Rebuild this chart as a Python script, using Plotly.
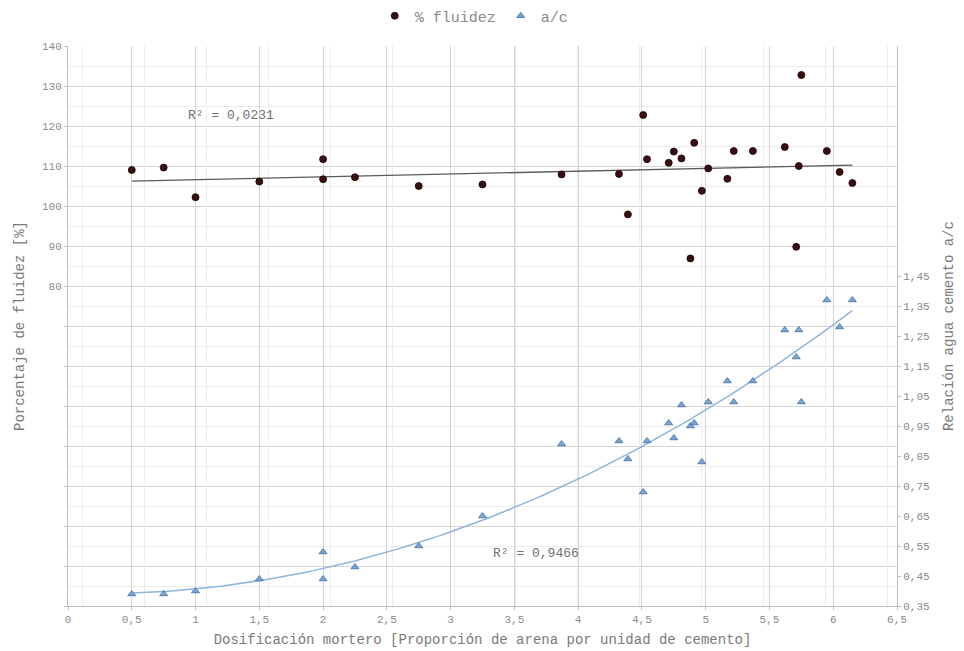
import numpy as np
import plotly.graph_objects as go

# ---------------- data ----------------
dosificacion = [0.5, 0.75, 1.0, 1.5, 2.0, 2.0, 2.25, 2.75, 3.25, 3.87, 4.32, 4.39, 4.51, 4.54,
                4.71, 4.75, 4.81, 4.88, 4.91, 4.97, 5.02, 5.17, 5.22, 5.37, 5.62, 5.71, 5.73,
                5.75, 5.95, 6.05, 6.15]
fluidez = [109.0, 109.6, 102.2, 106.1, 111.7, 106.7, 107.2, 105.0, 105.4, 107.9, 108.0, 97.9,
           122.75, 111.7, 110.8, 113.6, 111.9, 86.9, 115.8, 103.8, 109.4, 106.8, 113.75, 113.75,
           114.75, 89.8, 110.0, 132.75, 113.75, 108.5, 105.75]
agua_cemento = [0.39, 0.39, 0.40, 0.44, 0.53, 0.44, 0.48, 0.55, 0.65, 0.89, 0.90, 0.84, 0.73,
                0.90, 0.96, 0.91, 1.02, 0.95, 0.96, 0.83, 1.03, 1.10, 1.03, 1.10, 1.27, 1.18,
                1.27, 1.03, 1.37, 1.28, 1.37]

x_tickvals = [0, 0.5, 1, 1.5, 2, 2.5, 3, 3.5, 4, 4.5, 5, 5.5, 6, 6.5]
x_ticklabels = ["0", "0,5", "1", "1,5", "2", "2,5", "3", "3,5", "4", "4,5", "5", "5,5", "6", "6,5"]
y1_tickvals = [0, 10, 20, 30, 40, 50, 60, 70, 80, 90, 100, 110, 120, 130, 140]
y1_ticklabels = ["", "", "", "", "", "", "", "", "80", "90", "100", "110", "120", "130", "140"]
y2_tickvals = [0.35, 0.45, 0.55, 0.65, 0.75, 0.85, 0.95, 1.05, 1.15, 1.25, 1.35, 1.45]
y2_ticklabels = ["0,35", "0,45", "0,55", "0,65", "0,75", "0,85", "0,95", "1,05", "1,15",
                 "1,25", "1,35", "1,45"]

r2_fluidez_text = "R² = 0,0231"
r2_ac_text = "R² = 0,9466"

# ---------------- trend lines (fitted from data) ----------------
xd = np.array(dosificacion)
xs = np.linspace(xd.min(), xd.max(), 120)
p_lin = np.polyfit(xd, np.array(fluidez), 1)
p_quad = np.polyfit(xd, np.array(agua_cemento), 2)

FONT = "Liberation Mono, Courier New, monospace"
TXT = "#8a8a8a"
TITLE = "#7a7a7a"

fig = go.Figure()

fig.add_trace(go.Scatter(
    x=xs, y=np.polyval(p_lin, xs), mode="lines",
    line=dict(color="#5a5a5a", width=1.3), showlegend=False, hoverinfo="skip"))
fig.add_trace(go.Scatter(
    x=xs, y=np.polyval(p_quad, xs), mode="lines", yaxis="y2",
    line=dict(color="#8fb4dc", width=1.5), showlegend=False, hoverinfo="skip"))

fig.add_trace(go.Scatter(
    x=dosificacion, y=fluidez, mode="markers", name="% fluidez",
    marker=dict(symbol="circle", size=7, color="#3a0d10",
                line=dict(color="#1c0506", width=0.8))))
fig.add_trace(go.Scatter(
    x=dosificacion, y=agua_cemento, mode="markers", name="a/c", yaxis="y2",
    marker=dict(symbol="triangle-up", size=7, color="#79a5d6",
                line=dict(color="#41709f", width=0.8))))

# dummy trace to carry the secondary horizontal axis (its gridlines)
fig.add_trace(go.Scatter(x=[None], y=[None], xaxis="x2", yaxis="y", showlegend=False,
                         hoverinfo="skip"))

fig.add_annotation(x=1.28, y=122.75, xref="x", yref="y", text=r2_fluidez_text,
                   showarrow=False, font=dict(family=FONT, size=13, color="#707070"))
fig.add_annotation(x=3.67, y=13.25, xref="x", yref="y", text=r2_ac_text,
                   showarrow=False, font=dict(family=FONT, size=13, color="#707070"))

fig.update_layout(
    width=964, height=651,
    margin=dict(l=68, r=67, t=46, b=45, autoexpand=False),
    paper_bgcolor="white", plot_bgcolor="white",
    font=dict(family=FONT, size=11, color=TXT),
    showlegend=True,
    legend=dict(orientation="h", x=0.49, xanchor="center", yref="container",
                y=1 - 16 / 651, yanchor="middle",
                font=dict(family=FONT, size=15, color=TXT), itemwidth=30,
                tracegroupgap=0, bgcolor="rgba(0,0,0,0)"),
    xaxis=dict(range=[0, 6.5], tickvals=x_tickvals, ticktext=x_ticklabels, automargin=False,
               showgrid=True, gridcolor="#d4d4d4", gridwidth=1,
               showline=True, linecolor="#bfbfbf", linewidth=1,
               ticks="outside", ticklen=3, tickcolor="#bfbfbf",
               zeroline=False, tickfont=dict(family=FONT, size=11, color=TXT),
               title=dict(text="Dosificación mortero [Proporción de arena por unidad de cemento]",
                          font=dict(family=FONT, size=14, color=TITLE), standoff=8)),
    xaxis2=dict(overlaying="x", range=[-0.12, 6.58], dtick=0.5, showgrid=True,
                gridcolor="#ececec", showticklabels=False, ticks="", showline=False,
                zeroline=False, side="top", automargin=False),
    yaxis=dict(range=[0, 140], tickvals=y1_tickvals, ticktext=y1_ticklabels, automargin=False,
               showgrid=True, gridcolor="#d4d4d4", gridwidth=1,
               minor=dict(dtick=5, showgrid=True, gridcolor="#ececec", ticks=""),
               showline=True, linecolor="#bfbfbf", linewidth=1,
               ticks="outside", ticklen=3, tickcolor="#bfbfbf",
               zeroline=False, tickfont=dict(family=FONT, size=11, color=TXT),
               title=dict(text="Porcentaje de fluidez [%]",
                          font=dict(family=FONT, size=14, color=TITLE), standoff=14)),
    yaxis2=dict(overlaying="y", side="right", range=[0.35, 0.35 + 560 / 300], automargin=False,
                tickvals=y2_tickvals, ticktext=y2_ticklabels, showgrid=False,
                showline=True, linecolor="#bfbfbf", linewidth=1,
                ticks="outside", ticklen=3, tickcolor="#bfbfbf",
                zeroline=False, tickfont=dict(family=FONT, size=11, color=TXT),
                title=dict(text="Relación agua cemento a/c",
                           font=dict(family=FONT, size=14, color=TITLE), standoff=14)),
)

fig.write_html("out.html")
